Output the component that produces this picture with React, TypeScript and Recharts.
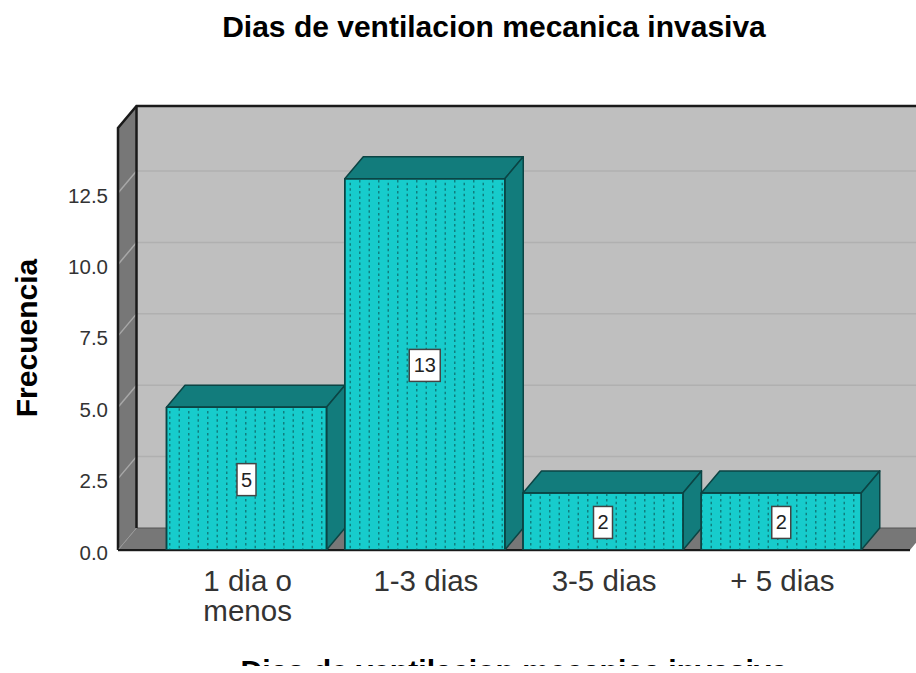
import React from 'react';
import { ComposedChart, Bar, XAxis, YAxis, ReferenceArea, ReferenceLine, LabelList, usePlotArea } from 'recharts';

const categories = ['1 dia o\nmenos', '1-3 dias', '3-5 dias', '+ 5 dias'];
const counts = [5, 13, 2, 2];
const yTicks = [0, 2.5, 5, 7.5, 10, 12.5];
const yMax = 14.78;
const chartTitle = 'Dias de ventilacion mecanica invasiva';
const xTitle = 'Dias de ventilacion mecanica invasiva';
const yTitle = 'Frecuencia';

const rows = categories.map((category, i) => ({ category, count: counts[i] }));

const FONT = '"Liberation Sans", Arial, sans-serif';
const DX = 18.5;
const DY = 22;
const EDGE = '#1a1a1a';
const WALL = '#777777';
const BACK = '#bfbfbf';
const FRONT = '#17cccc';
const DARK = '#127c7c';
const BAR_EDGE = '#0b4444';

const pts = (p: number[][]) => p.map((q) => q.join(',')).join(' ');

const Walls = () => {
  const area = usePlotArea();
  if (!area) return null;
  const { x, y, width, height } = area;
  const b = y + height;
  const r = x + width;
  return (
    <g>
      <rect x={x + DX} y={y - DY} width={width + 20} height={height} fill={BACK} />
      <polygon points={pts([[x, y], [x + DX, y - DY], [x + DX, b - DY], [x, b]])} fill={WALL} />
      <polygon points={pts([[x, b], [x + DX, b - DY], [r + DX, b - DY], [r, b]])} fill={WALL} />
      <line x1={x + DX} y1={b - DY} x2={r + DX} y2={b - DY} stroke="#555" strokeWidth={1} />
    </g>
  );
};

const WallEdges = () => {
  const area = usePlotArea();
  if (!area) return null;
  const { x, y, width, height } = area;
  const b = y + height;
  const r = x + width;
  return (
    <g fill="none" stroke={EDGE} strokeWidth={2.5}>
      <polyline points={pts([[x, b], [x, y], [x + DX, y - DY], [r + DX + 20, y - DY]])} />
      <line x1={x + DX} y1={y - DY} x2={x + DX} y2={b - DY} />
      <line x1={x + DX} y1={b - DY} x2={x} y2={b} stroke="#999" strokeWidth={1} />
      <line x1={x} y1={b + 1.5} x2={r} y2={b + 1.5} stroke="#ccc" strokeWidth={1} />
      <line x1={x} y1={b} x2={r} y2={b} strokeWidth={2} />
    </g>
  );
};

const GridTick = (props: any) => {
  const { x1, y1, x2 } = props;
  return (
    <g fill="none" strokeWidth={1.5}>
      <line x1={x1} y1={y1} x2={x1 + DX} y2={y1 - DY} stroke="#a8a8a8" />
      <line x1={x1 + DX} y1={y1 - DY} x2={x2 + DX + 20} y2={y1 - DY} stroke="#b0b0b0" />
    </g>
  );
};

const Bar3D = (props: any) => {
  const { x, y, width, height } = props;
  const r = x + width;
  const b = y + height;
  return (
    <g stroke={BAR_EDGE} strokeWidth={1.5} strokeLinejoin="round">
      <polygon points={pts([[x, y], [x + DX, y - DY], [r + DX, y - DY], [r, y]])} fill={DARK} />
      <polygon points={pts([[r, y], [r + DX, y - DY], [r + DX, b - DY], [r, b]])} fill={DARK} />
      <rect x={x} y={y} width={width} height={height} fill={FRONT} />
      <rect x={x} y={y} width={width} height={height} fill="url(#dots)" />
    </g>
  );
};

const ValueBox = (props: any) => {
  const { x, y, width, height, value } = props;
  const cx = x + width / 2;
  const cy = y + height / 2 + 1;
  const w = String(value).length > 1 ? 31 : 19;
  return (
    <g>
      <rect x={cx - w / 2} y={cy - 16} width={w} height={32} fill="#fff" stroke="#444" strokeWidth={1.5} />
      <text x={cx} y={cy + 7} textAnchor="middle" fontFamily={FONT} fontSize={20} fill="#222">{value}</text>
    </g>
  );
};

const XTick = (props: any) => {
  const { x, y, payload } = props;
  const lines = String(payload.value).split('\n');
  return (
    <g>
      {lines.map((l: string, i: number) => (
        <text key={i} x={x + 1} y={y + 33 + i * 30} textAnchor="middle" fontFamily={FONT} fontSize={29.5} fill="#333">{l}</text>
      ))}
    </g>
  );
};

const YTick = (props: any) => {
  const { x, y, payload } = props;
  return (
    <text x={x - 4} y={y + 9.5} textAnchor="end" fontFamily={FONT} fontSize={20.5} fill="#333">
      {Number(payload.value).toFixed(1)}
    </text>
  );
};

const XTitle = (props: any) => {
  const vb = props.viewBox;
  return (
    <text x={vb.x + vb.width / 2} y={681} textAnchor="middle" fontFamily={FONT} fontWeight="bold" fontSize={30.2} fill="#000">{xTitle}</text>
  );
};

const YTitle = () => (
  <text transform="translate(37,338) rotate(-90)" textAnchor="middle" fontFamily={FONT} fontWeight="bold" fontSize={30} fill="#000">{yTitle}</text>
);

export default function App() {
  return (
    <div style={{ position: 'absolute', left: 0, top: 0, width: 916, height: 666, overflow: 'hidden', background: '#fff' }}>
      <svg width={916} height={60} style={{ position: 'absolute', left: 0, top: 0 }}>
        <text x={494} y={37} textAnchor="middle" fontFamily={FONT} fontWeight="bold" fontSize={30} fill="#000">{chartTitle}</text>
      </svg>
      <ComposedChart
        width={916}
        height={666}
        data={rows}
        margin={{ top: 128, right: 6, bottom: 0, left: 0 }}
        barCategoryGap={0}
        style={{ overflow: 'visible' }}
      >
        <defs>
          <pattern id="dots" patternUnits="userSpaceOnUse" x={169} y={180} width={19} height={11}>
            <rect x={0} y={0} width={1.5} height={2.5} fill="#0f7f7f" />
            <rect x={0} y={5.5} width={1.5} height={2.5} fill="#0f7f7f" />
            <rect x={9.5} y={2.75} width={1.5} height={2.5} fill="#0f7f7f" />
            <rect x={9.5} y={8.25} width={1.5} height={2.5} fill="#0f7f7f" />
          </pattern>
        </defs>
        <XAxis
          dataKey="category"
          height={116}
          axisLine={false}
          tickLine={false}
          interval={0}
          padding={{ left: 39.5, right: 39.5 }}
          tick={<XTick />}
          label={<XTitle />}
        />
        <YAxis
          width={118}
          domain={[0, yMax]}
          ticks={yTicks}
          axisLine={false}
          tickLine={false}
          tickMargin={0}
          tick={<YTick />}
          label={<YTitle />}
          allowDataOverflow
        />
        <ReferenceArea y1={0} y2={yMax} ifOverflow="visible" shape={<Walls />} zIndex={110} />
        {yTicks.filter((t) => t > 0).map((t) => (
          <ReferenceLine key={t} y={t} ifOverflow="visible" shape={<GridTick />} zIndex={120} />
        ))}
        <ReferenceArea y1={0} y2={yMax} ifOverflow="visible" shape={<WallEdges />} zIndex={130} />
        <Bar dataKey="count" barSize={160} isAnimationActive={false} shape={<Bar3D />}>
          <LabelList dataKey="count" content={<ValueBox />} />
        </Bar>
      </ComposedChart>
    </div>
  );
}
